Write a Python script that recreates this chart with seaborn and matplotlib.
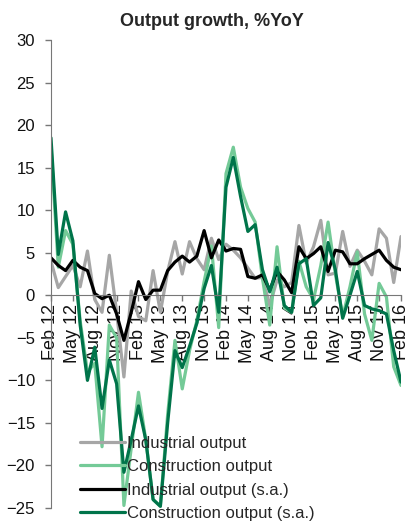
import matplotlib
matplotlib.use("Agg")
import matplotlib.pyplot as plt
import numpy as np
import pandas as pd
import seaborn as sns

# monthly, Feb 2012 .. Feb 2016
months = pd.date_range("2012-02-01", "2016-02-01", freq="MS")
tick_labels = [d.strftime("%b %y") for d in months[::3]]

industrial = [4.0, 0.9, 2.2, 3.5, 1.0, 5.2, -0.5, -2.0, 4.7, -2.0,
              -9.6, 0.5, -2.5, -3.0, 2.9, -2.0, 2.8, 6.3, 2.5, 6.3,
              4.3, 3.0, 6.7, 4.2, 6.0, 5.3, 4.4, 3.2, 2.0, 2.1,
              -1.2, 1.8, 1.0, 1.5, 8.2, 3.8, 5.7, 8.8, 2.4, 2.6,
              7.5, 3.4, 5.3, 4.0, 2.4, 7.8, 6.7, 1.5, 6.9]
construction = [17.5, 3.3, 7.6, 6.0, -3.0, -9.0, -8.0, -17.8, -3.5, -5.0,
                -24.7, -18.0, -11.4, -17.0, -24.0, -24.8, -14.0, -5.3, -11.0, -6.5,
                -3.0, 1.6, 5.8, -3.8, 14.3, 17.4, 12.7, 10.2, 8.6, 2.0,
                -3.5, 5.7, -1.5, -2.0, 4.0, 1.0, -0.5, 3.5, 8.6, 2.5,
                -2.5, 1.0, 5.1, -2.2, -5.3, 1.4, -0.2, -8.4, -10.6]
industrial_sa = [4.4, 3.5, 2.9, 4.1, 3.3, 2.9, 0.2, -0.4, 0.0, -2.2,
                 -5.3, -2.0, 1.6, -0.5, 0.6, 0.6, 2.9, 3.9, 4.6, 3.9,
                 4.6, 7.6, 4.4, 6.5, 5.2, 5.5, 5.4, 2.2, 2.0, 2.4,
                 0.6, 2.8, 1.8, 0.3, 5.7, 4.3, 4.9, 5.7, 2.8, 5.3,
                 5.1, 3.7, 3.7, 4.3, 4.8, 5.3, 4.1, 3.3, 3.0]
construction_sa = [18.5, 4.8, 9.8, 6.4, -3.5, -10.0, -6.1, -13.3, -7.6, -10.4,
                   -20.8, -17.0, -13.0, -17.0, -24.0, -24.8, -15.0, -6.5, -8.5, -6.0,
                   -3.3, 0.8, 3.5, -2.0, 12.7, 16.2, 11.6, 7.5, 8.3, 3.0,
                   0.4, 3.3, -1.2, -2.0, 3.7, 4.3, -1.2, -0.3, 6.2, 3.0,
                   -2.7, 0.0, 2.8, -1.2, -1.6, -1.8, -2.2, -6.5, -10.2]

series = [("Industrial output", industrial, "#a6a6a6"),
          ("Construction output", construction, "#74ca97"),
          ("Industrial output (s.a.)", industrial_sa, "#000000"),
          ("Construction output (s.a.)", construction_sa, "#00744a")]

sns.set_style("white")
plt.rcParams["font.family"] = ["Liberation Sans", "DejaVu Sans"]

fig = plt.figure(figsize=(4.06, 5.22), dpi=100)
ax = fig.add_axes([0.1256, 0.0268, 0.8621, 0.8966])

x = np.arange(len(months))
for name, vals, col in series:
    sns.lineplot(x=x, y=vals, ax=ax, color=col, linewidth=2.3, label=name)

# spine position first, it resets the tick objects
for s in ["top", "right"]:
    ax.spines[s].set_visible(False)
ax.spines["bottom"].set_position(("data", 0))
ax.spines["left"].set_color("#777777")
ax.spines["bottom"].set_color("#777777")

ax.set_xlim(0, 48)
ax.set_ylim(-25, 30)
ax.set_yticks(range(-25, 31, 5))
ax.set_xticks(x[::3])
ax.set_xticklabels(tick_labels)
ax.tick_params(axis="y", labelsize=12, colors="#111111", direction="out",
               length=4.5, width=1, color="#777777", left=True, pad=7)
ax.tick_params(axis="x", labelsize=13, labelcolor="#111111", direction="out",
               length=4, width=1, color="#777777", bottom=True, pad=2,
               labelrotation=90)

fig.text(0.523, 0.958, "Output growth, %YoY", ha="center", va="center",
         fontsize=13, fontweight="bold")

ax.legend(loc="upper left", bbox_to_anchor=(0.197, 0.165), bbox_transform=fig.transFigure,
          frameon=False, fontsize=12, handlelength=2.7, handletextpad=0.15,
          labelspacing=0.5, borderaxespad=0, borderpad=0)

fig.savefig("out.png", dpi=100)
